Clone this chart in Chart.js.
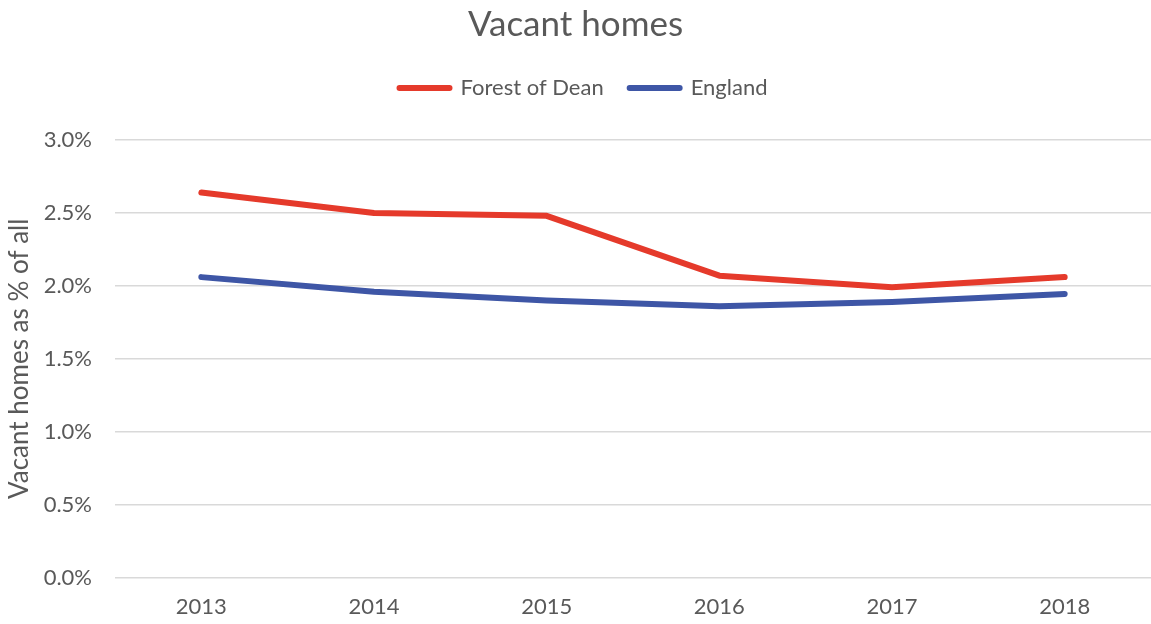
<!DOCTYPE html>
<html>
<head>
<meta charset="utf-8">
<script src="https://cdn.jsdelivr.net/npm/chart.js@4"></script>
<style>
  html, body { margin: 0; padding: 0; background: #ffffff; }
  #wrap { width: 1151px; height: 624px; position: relative; }
</style>
</head>
<body>
<div id="wrap"><canvas id="c" width="1151" height="624"></canvas></div>
<script>
const categories = ["2013", "2014", "2015", "2016", "2017", "2018"];
const forestOfDean = [2.64, 2.50, 2.48, 2.07, 1.99, 2.06];
const england = [2.06, 1.96, 1.90, 1.86, 1.89, 1.945];
const yTicks = [0, 0.5, 1.0, 1.5, 2.0, 2.5, 3.0];

const FONT = "Lato, 'Open Sans', sans-serif";
const TXT = "#595959";

// empty layout box that leaves a gap between the legend and the plot
const legendGap = {
  id: "legendGap",
  beforeInit(chart) {
    Chart.layouts.addBox(chart, {
      position: "top", weight: 900, fullSize: true, options: {},
      width: 0, height: 0, left: 0, top: 0, right: 0, bottom: 0,
      isHorizontal() { return true; },
      update(maxWidth) { this.width = maxWidth; this.height = 31; },
      draw() {},
      getPadding() { return { top: 0, left: 0, right: 0, bottom: 0 }; }
    });
  },
  afterLayout(chart) {
    // legend sits slightly right of centre in the reference
    if (chart.legend) { chart.legend.left += 8; chart.legend.right += 8; }
  }
};

new Chart(document.getElementById("c"), {
  type: "line",
  data: {
    labels: categories,
    datasets: [
      { label: "Forest of Dean", data: forestOfDean, borderColor: "#E53A2B", backgroundColor: "#E53A2B",
        borderWidth: 6, pointRadius: 0, pointHoverRadius: 0, tension: 0, borderCapStyle: "round", borderJoinStyle: "round" },
      { label: "England", data: england, borderColor: "#3E56A6", backgroundColor: "#3E56A6",
        borderWidth: 6, pointRadius: 0, pointHoverRadius: 0, tension: 0, borderCapStyle: "round", borderJoinStyle: "round" }
    ]
  },
  plugins: [legendGap],
  options: {
    responsive: false,
    animation: false,
    devicePixelRatio: 1,
    layout: { padding: { left: 0, right: 0, top: 0, bottom: -12 } },
    plugins: {
      title: { display: true, text: "Vacant homes", color: TXT,
        font: { family: FONT, size: 35, weight: "normal" }, padding: { top: 4, bottom: 5 } },
      legend: { display: true, position: "top",
        labels: { color: TXT, font: { family: FONT, size: 22 }, boxWidth: 50, boxHeight: 0, padding: 26 } },
      tooltip: { enabled: false }
    },
    scales: {
      x: {
        offset: true,
        grid: { display: false, drawTicks: false },
        border: { display: false },
        ticks: { color: TXT, font: { family: FONT, size: 22 }, padding: 16, maxRotation: 0 }
      },
      y: {
        min: 0, max: 3.0,
        afterBuildTicks: (s) => { s.ticks = yTicks.map(v => ({ value: v })); },
        afterFit: (s) => { s.width = 115; },
        grid: { color: "#D9D9D9", lineWidth: 1.5, drawTicks: false },
        border: { display: false },
        ticks: { color: TXT, font: { family: FONT, size: 22 }, padding: 23,
          callback: (v) => v.toFixed(1) + "%" },
        title: { display: true, text: "Vacant homes as % of all", color: TXT,
          font: { family: FONT, size: 26 }, padding: { top: 4, bottom: 2 } }
      }
    }
  }
});
</script>
</body>
</html>
